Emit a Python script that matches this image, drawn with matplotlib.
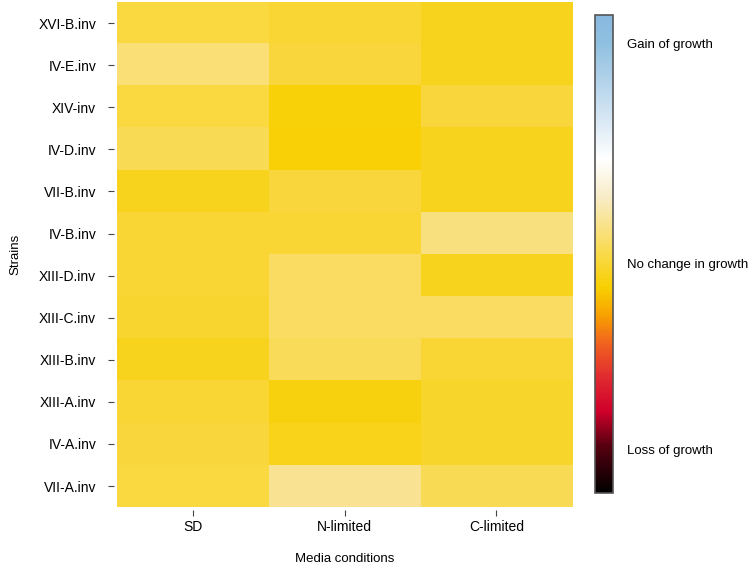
import numpy as np
import matplotlib.pyplot as plt
from matplotlib.colors import LinearSegmentedColormap

plt.rcParams['font.family'] = ['Liberation Sans', 'DejaVu Sans']

# Stämme (oben nach unten) und Medienbedingungen
strains = ['XVI-B.inv', 'IV-E.inv', 'XIV-inv', 'IV-D.inv', 'VII-B.inv', 'IV-B.inv',
           'XIII-D.inv', 'XIII-C.inv', 'XIII-B.inv', 'XIII-A.inv', 'IV-A.inv', 'VII-A.inv']
media = ['SD', 'N-limited', 'C-limited']

# Werte auf der Farbskala (0 = Verlust, 1 = Gewinn)
sd_vals = [0.49, 0.54, 0.49, 0.51, 0.46, 0.48, 0.48, 0.475, 0.46, 0.48, 0.485, 0.49]
n_vals = [0.48, 0.485, 0.44, 0.435, 0.485, 0.48, 0.52, 0.52, 0.515, 0.445, 0.455, 0.57]
c_vals = [0.46, 0.46, 0.485, 0.46, 0.46, 0.55, 0.46, 0.52, 0.48, 0.47, 0.47, 0.51]

cbar_ticks = [0.09, 0.48, 0.94]
cbar_labels = ['Loss of growth', 'No change in growth', 'Gain of growth']

cmap = LinearSegmentedColormap.from_list('growth', [
    (0.0, '#000000'), (0.10, '#5a0010'), (0.17, '#d0002a'), (0.24, '#e02a30'),
    (0.31, '#f06020'), (0.37, '#f8a000'), (0.43, '#f8d000'), (0.52, '#fadc60'),
    (0.62, '#f8ecc8'), (0.70, '#ffffff'), (0.78, '#d8e8f4'), (0.94, '#90c0e0'),
    (1.0, '#88b8e0')])

data = np.column_stack([sd_vals, n_vals, c_vals])

fig = plt.figure(figsize=(7.5, 5.66), dpi=100)
ax = fig.add_axes([0.156, 0.104, 0.607, 0.8925])
im = ax.imshow(data, cmap=cmap, vmin=0, vmax=1, aspect='auto', interpolation='nearest')

ax.set_xticks(range(len(media)))
ax.set_xticklabels(media, fontsize=9.5)
ax.set_yticks(range(len(strains)))
ax.set_yticklabels(strains, fontsize=9.5)
for s in ax.spines.values():
    s.set_visible(False)
ax.spines['left'].set_position(('outward', 2))
ax.spines['bottom'].set_position(('outward', 2))
ax.tick_params(axis='both', length=4, color='#444444')
ax.tick_params(axis='y', pad=9)
ax.tick_params(axis='x', pad=3)
ax.set_xlabel('Media conditions', fontsize=9.5, labelpad=14)
ax.set_ylabel('Strains', fontsize=9.5, labelpad=12)

cax = fig.add_axes([0.793, 0.129, 0.024, 0.845])
cb = fig.colorbar(im, cax=cax, ticks=cbar_ticks)
cb.ax.set_yticklabels(cbar_labels, fontsize=9.5)
cb.ax.tick_params(length=0, pad=10)
cb.outline.set_edgecolor('#555555')
cb.outline.set_linewidth(1.2)

plt.savefig('out.png')
